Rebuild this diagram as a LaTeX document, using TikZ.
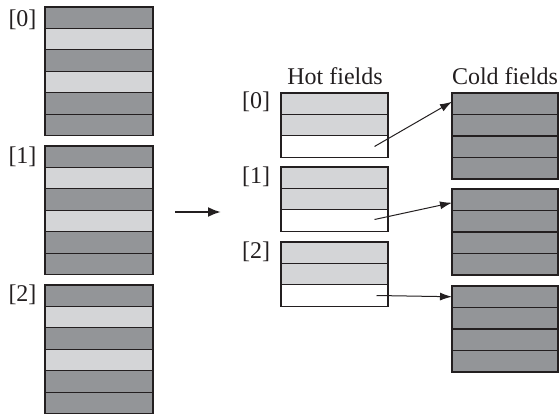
\documentclass[tikz,border=0pt]{standalone}
\usepackage{fontspec}
\setmainfont{Liberation Serif}
\usetikzlibrary{arrows.meta}
\definecolor{darkcell}{RGB}{147,149,152}
\definecolor{lightcell}{RGB}{212,213,215}
\definecolor{inkline}{RGB}{35,31,32}
\begin{document}
\begin{tikzpicture}[x=1pt,y=-1pt,
  cell/.style={draw=inkline,line width=1.1pt,anchor=north west,inner sep=0pt,outer sep=0pt},
  leftcell/.style={cell,minimum width=108pt,minimum height=21.45pt},
  hotcell/.style={cell,minimum width=107pt,minimum height=21.4pt},
  coldcell/.style={cell,minimum width=106pt,minimum height=21.5pt},
  lbl/.style={font=\fontsize{24}{27}\selectfont,text=inkline,inner sep=0pt},
  ptr/.style={draw=inkline,line width=1pt,-{Latex[length=12pt,width=8pt]}},
  bigarrow/.style={draw=inkline,line width=2.2pt,-{Latex[length=13pt,width=10pt]}}]
\useasboundingbox (0,0) rectangle (559,414);
% left arrays
\foreach \i/\top in {0/7,1/146,2/285}{
  \foreach \r/\col in {1/darkcell,2/lightcell,3/darkcell,4/lightcell,5/darkcell,6/darkcell}{
    \node[leftcell,fill=\col] (a\i r\r) at (45,{\top+(\r-1)*21.45}) {};
  }
}
\node[lbl] (la0) at (22.5,20) {[0]};
\node[lbl] (la1) at (22.5,157) {[1]};
\node[lbl] (la2) at (22.5,295) {[2]};
% main arrow
\coordinate (ms) at (175,212);
\coordinate (me) at (221,212);
\draw[bigarrow] (ms) -- (me);
% titles
\node[lbl] (hottitle) at (335,76) {Hot fields};
\node[lbl] (coldtitle) at (505,76) {Cold fields};
% hot fields
\foreach \i/\top in {0/93,1/167,2/242}{
  \foreach \r/\col in {1/lightcell,2/lightcell,3/white}{
    \node[hotcell,fill=\col] (h\i r\r) at (281,{\top+(\r-1)*21.4}) {};
  }
}
\node[lbl] (lh0) at (256,102) {[0]};
\node[lbl] (lh1) at (256,177) {[1]};
\node[lbl] (lh2) at (256,252) {[2]};
% cold fields
\foreach \i/\top in {0/93,1/189,2/286}{
  \foreach \r in {1,2,3,4}{
    \node[coldcell,fill=darkcell] (c\i r\r) at (452,{\top+(\r-1)*21.5}) {};
  }
}
% pointers
\coordinate (p0) at ([xshift=40pt]h0r3.center);
\coordinate (p1) at ([xshift=40pt,yshift=1pt]h1r3.center);
\coordinate (p2) at ([xshift=42pt]h2r3.center);
\draw[ptr] (p0) -- ([yshift=2pt]c0r1.west);
\draw[ptr] (p1) -- ([yshift=-3pt]c1r1.west);
\draw[ptr] (p2) -- (c2r1.west);
\end{tikzpicture}
\end{document}
